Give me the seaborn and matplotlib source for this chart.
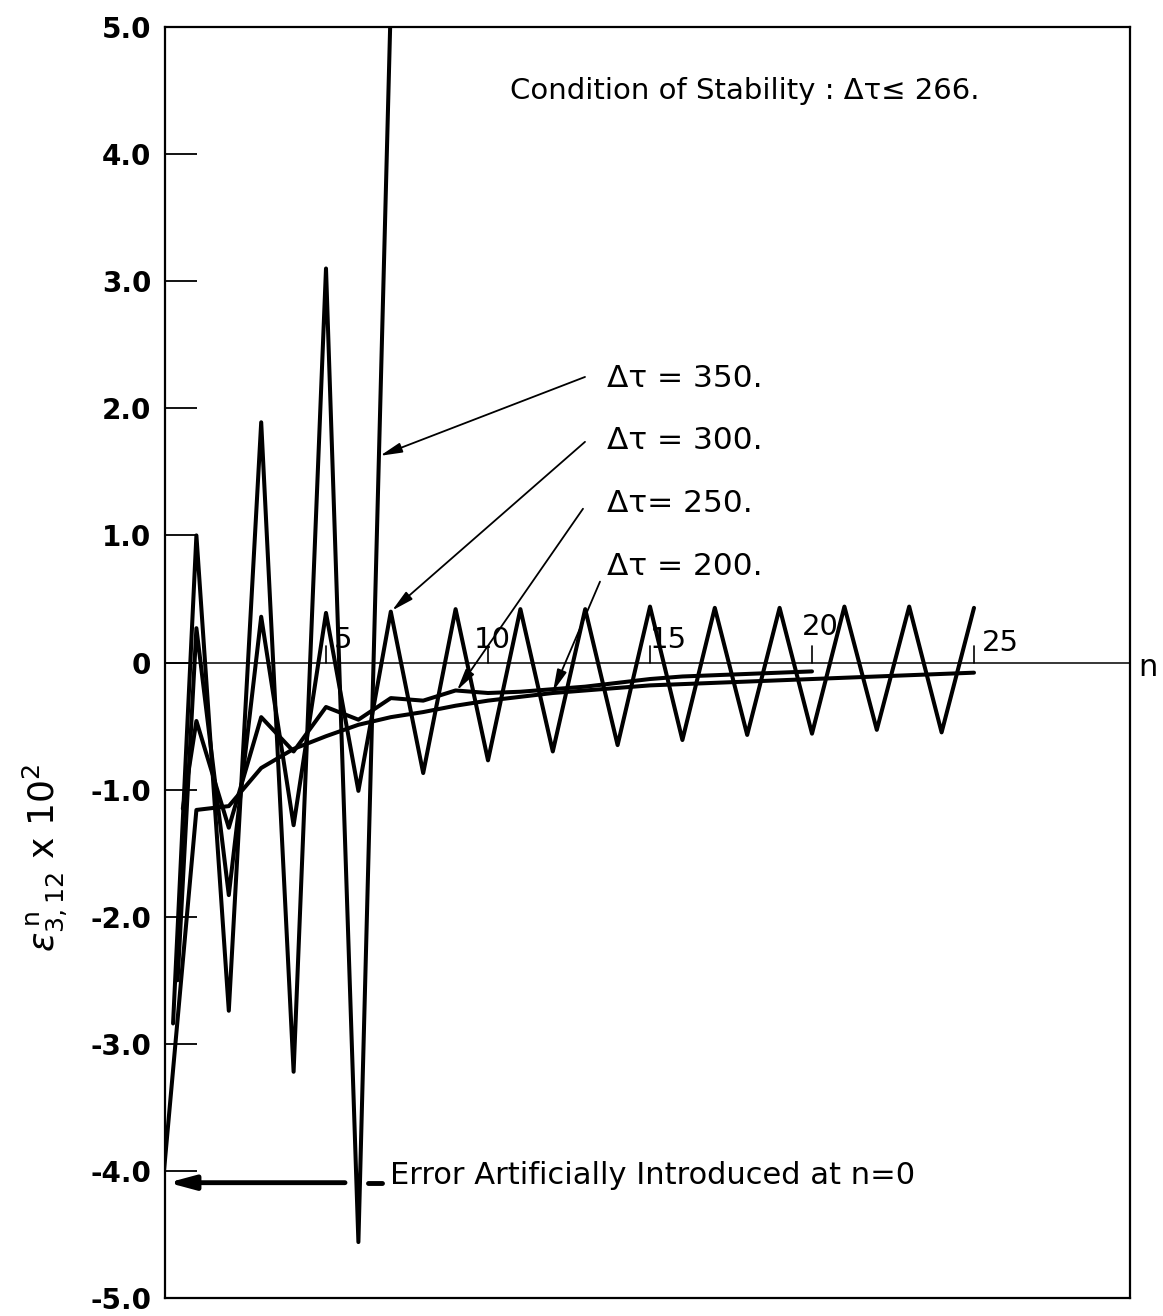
import matplotlib
matplotlib.use("Agg")
import matplotlib.pyplot as plt
import seaborn as sns
import numpy as np
import pandas as pd

# ---- data ----
n_350 = [0.28, 1, 2, 3, 4, 5, 6, 7]
e_350 = [-2.84, 1.00, -2.74, 1.89, -3.22, 3.10, -4.56, 5.20]

n_300 = [0.42] + list(range(1, 26))
e_300 = [-2.50, 0.27, -1.83, 0.36, -1.28, 0.39, -1.01, 0.40, -0.87, 0.42, -0.77,
         0.42, -0.70, 0.42, -0.65, 0.44, -0.61, 0.43, -0.57, 0.43, -0.56,
         0.44, -0.53, 0.44, -0.55, 0.43]

n_250 = [0.58] + list(range(1, 21))
e_250 = [-1.15, -0.46, -1.30, -0.43, -0.70, -0.35, -0.45, -0.28, -0.30, -0.22,
         -0.24, -0.23, -0.21, -0.19, -0.16, -0.13, -0.11, -0.10, -0.09, -0.08, -0.07]

n_200 = list(range(0, 26))
e_200 = [-4.00, -1.16, -1.13, -0.83, -0.68, -0.58, -0.49, -0.43, -0.39, -0.34,
         -0.30, -0.27, -0.24, -0.22, -0.20, -0.18, -0.17, -0.16, -0.15, -0.14,
         -0.13, -0.12, -0.11, -0.10, -0.09, -0.08]

y_ticks = [5, 4, 3, 2, 1, 0, -1, -2, -3, -4, -5]
y_tick_labels = ["5.0", "4.0", "3.0", "2.0", "1.0", "0", "-1.0", "-2.0", "-3.0", "-4.0", "-5.0"]
x_ticks = [5, 10, 15, 20, 25]
x_tick_labels = ["5", "10", "15", "20", "25"]
series_labels = ["\u0394\u03c4 = 350.", "\u0394\u03c4 = 300.", "\u0394\u03c4= 250.", "\u0394\u03c4 = 200."]

# ---- plotting ----
sns.set_theme(style="white")
plt.rcParams['font.family'] = ['DejaVu Sans']
plt.rcParams['mathtext.fontset'] = 'dejavusans'
plt.rcParams['text.color'] = 'black'
plt.rcParams['ytick.color'] = 'black'
plt.rcParams['ytick.labelcolor'] = 'black'

fig = plt.figure(figsize=(11.63, 13.16), dpi=100)
ax = fig.add_axes([165/1163, 1 - 1298/1316, (1130 - 165)/1163, (1298 - 27)/1316])

XMIN, XMAX = (165 - 164)/32.4, (1130 - 164)/32.4
ax.set_xlim(XMIN, XMAX)
ax.set_ylim(-5.0, 5.0)

lw = 2.9
for nn, ee in [(n_350, e_350), (n_300, e_300), (n_250, e_250), (n_200, e_200)]:
    df = pd.DataFrame({"n": nn, "e": ee})
    sns.lineplot(data=df, x="n", y="e", ax=ax, color="black", lw=lw,
                 estimator=None, sort=False, legend=False)

# zero line
ax.axhline(0, color="black", lw=1.1, zorder=1)

# spines
for s in ax.spines.values():
    s.set_color("black")
    s.set_linewidth(1.6)

# y ticks (inward, long)
ax.set_yticks(y_ticks)
ax.set_yticklabels(y_tick_labels, fontsize=20, fontweight="bold", color="black")
ax.tick_params(axis="y", direction="in", length=23, width=1.3, pad=10,
               left=True, right=False, colors="black")
ax.set_xticks([])
ax.set_xlabel("")
ax.set_ylabel("")

# x ticks on the zero line
for xt in x_ticks:
    ax.plot([xt, xt], [0, 0.13], color="black", lw=1.2)
label_pos = {5: (5.25, 0.07), 10: (9.55, 0.07), 15: (15.0, 0.07), 20: (19.7, 0.17), 25: (25.25, 0.04)}
for xt, lab in zip(x_ticks, x_tick_labels):
    px, py = label_pos[xt]
    ax.text(px, py, lab, fontsize=21, ha="left", va="bottom", color="black")

# n label at right
fig.text(1148/1163, 1 - 667/1316, "n", fontsize=22, ha="center", va="center", color="black")

# y label
fig.text(45/1163, 1 - 858/1316, r"$\epsilon^{\,\mathrm{n}}_{\mathrm{3,12}}\ \mathrm{x}\ 10^{2}$",
         fontsize=26, rotation=90, ha="center", va="center", color="black")

# Condition text
ax.text((510 - 164)/32.4, (664 - 92)/127.3, "Condition of Stability : \u0394\u03c4\u2264 266.",
        fontsize=21, ha="left", va="center", color="black")

# series annotations
def px2d(x, y):
    return ((x - 164)/32.4, (664 - y)/127.3)

ann = [
    (series_labels[0], (607, 380), (585, 378), (380, 457)),
    (series_labels[1], (607, 442), (585, 443), (392, 612)),
    (series_labels[2], (607, 505), (583, 510), (457, 692)),
    (series_labels[3], (607, 568), (600, 583), (553, 693)),
]
for lab, tpos, start, end in ann:
    tx, ty = px2d(*tpos)
    ax.text(tx, ty, lab, fontsize=22.5, ha="left", va="center", color="black")
    ax.annotate("", xy=px2d(*end), xytext=px2d(*start),
                arrowprops=dict(arrowstyle="-|>,head_length=1.1,head_width=0.25",
                                color="black", lw=1.3, shrinkA=0, shrinkB=0))

# Error artificially introduced
ya = (664 - 1185)/127.3
ax.annotate("", xy=((168 - 164)/32.4, ya), xytext=((345 - 164)/32.4, ya),
            arrowprops=dict(arrowstyle="-|>,head_length=1.3,head_width=0.35",
                            color="black", lw=3.5, shrinkA=0, shrinkB=0))
ax.plot([(368 - 164)/32.4, (382 - 164)/32.4], [ya, ya], color="black", lw=3.5,
        solid_capstyle="round")
ax.text((390 - 164)/32.4, (664 - 1178)/127.3, "Error Artificially Introduced at n=0",
        fontsize=22, ha="left", va="center", color="black")

fig.savefig("out.png", dpi=100, facecolor="white")
